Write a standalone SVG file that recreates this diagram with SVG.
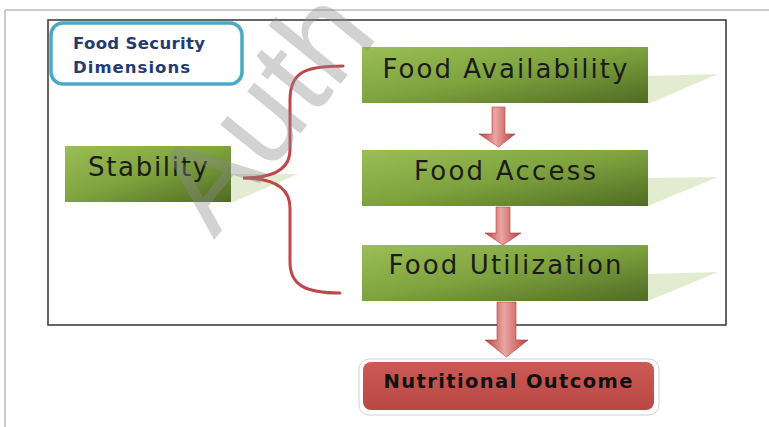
<svg xmlns="http://www.w3.org/2000/svg" width="769" height="427" viewBox="0 0 769 427">
<defs>
<linearGradient id="green" x1="0" y1="0" x2="1" y2="1">
<stop offset="0" stop-color="#9BBE55"/>
<stop offset="0.5" stop-color="#7EA23E"/>
<stop offset="1" stop-color="#4F6B24"/>
</linearGradient>
<linearGradient id="redArrow" x1="0" y1="0" x2="1" y2="0">
<stop offset="0" stop-color="#B8403E"/>
<stop offset="0.45" stop-color="#EBA5A3"/>
<stop offset="1" stop-color="#B8403E"/>
</linearGradient>
<linearGradient id="redBox" x1="0" y1="0" x2="0" y2="1">
<stop offset="0" stop-color="#CB5A57"/>
<stop offset="1" stop-color="#B94744"/>
</linearGradient>
</defs>
<style>
.box{fill:url(#green);}
.lbl{font-family:"DejaVu Sans",sans-serif;font-size:26px;fill:#1b1b1b;text-anchor:middle;}
.refl{fill:#D9E6C2;opacity:0.75;}
.arrow{fill:url(#redArrow);stroke:#B0403D;stroke-width:0.6;}
.brace{fill:none;stroke:#C0464B;stroke-width:3;stroke-linecap:round;}
</style>
<rect x="0" y="0" width="769" height="427" fill="#ffffff"/>
<path d="M5 427 V10 H769" fill="none" stroke="#9a9a9a" stroke-width="1"/>
<rect x="48" y="20" width="678" height="305" fill="none" stroke="#3f3f3f" stroke-width="1.6"/>
<g id="title">
<rect x="51" y="23" width="191" height="61" rx="12" fill="#ffffff" stroke="#4AAAC6" stroke-width="3.5"/>
<text x="73" y="49" font-family="DejaVu Sans, sans-serif" font-weight="bold" font-size="16.5" fill="#1F3C70" textLength="132">Food Security</text>
<text x="73" y="73" font-family="DejaVu Sans, sans-serif" font-weight="bold" font-size="16.5" fill="#1F3C70" textLength="117">Dimensions</text>
</g>
<g id="stability">
<polygon class="refl" points="231,174 298,174 231,203"/>
<rect class="box" x="65" y="146" width="166" height="56"/>
<text class="lbl" x="148" y="176" textLength="120">Stability</text>
</g>
<g id="availability">
<polygon class="refl" points="648,76 718,74 648,104"/>
<rect class="box" x="362" y="47" width="286" height="56"/>
<text class="lbl" x="505" y="78" textLength="245">Food Availability</text>
</g>
<g id="access">
<polygon class="refl" points="648,178 718,177 648,206"/>
<rect class="box" x="362" y="150" width="286" height="56"/>
<text class="lbl" x="505" y="180" textLength="182">Food Access</text>
</g>
<g id="utilization">
<polygon class="refl" points="648,274 718,272 648,301"/>
<rect class="box" x="362" y="245" width="286" height="56"/>
<text class="lbl" x="505" y="274" textLength="233">Food Utilization</text>
</g>
<g id="outcome">
<rect x="359" y="359" width="300" height="56" rx="10" fill="#ffffff" stroke="#d0d0d0" stroke-width="1"/>
<rect x="363" y="362" width="291" height="48" rx="8" fill="url(#redBox)"/>
<text x="508" y="388" font-family="DejaVu Sans, sans-serif" font-weight="bold" font-size="19.5" fill="#111" text-anchor="middle" textLength="249">Nutritional Outcome</text>
</g>
<g id="connectors">
<path class="brace" d="M343 66 C305 66 290 72 290 100 V150 C290 168 275 178 243 178 C275 178 290 188 290 208 V262 C290 285 305 293 340 293"/>
<path class="arrow" d="M492 107 H505 V134 H515 L498.5 147 L479 134 H492 Z"/>
<path class="arrow" d="M496 207 H510 V233 H521 L503 245 L485 233 H496 Z"/>
<path class="arrow" d="M497 302 H516 V340 H528 L506.5 357 L485 340 H497 Z"/>
</g>
<text x="214" y="240" transform="rotate(-51 214 240)" font-family="Liberation Sans, sans-serif" font-size="128" fill="#8a8a8a" opacity="0.38">Auth</text>
</svg>
